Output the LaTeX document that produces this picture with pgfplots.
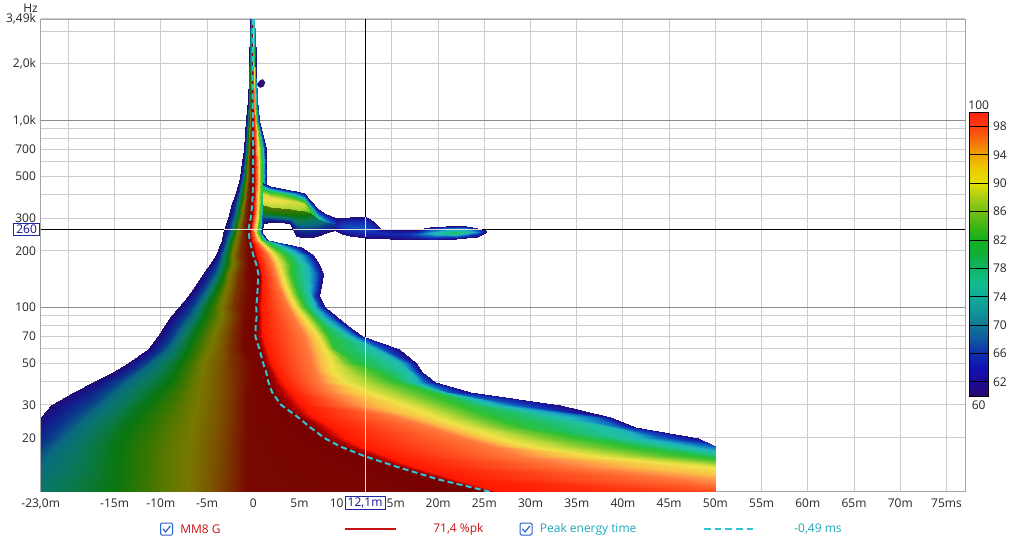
\documentclass[border=0pt]{standalone}
\usepackage{fontspec}
\setmainfont{Open Sans}
\usepackage{pgfplots}
\pgfplotsset{compat=1.18}
\newcommand\lab{\fontsize{9}{10.8}\selectfont}
\definecolor{curc}{RGB}{30,40,160}
\definecolor{curt}{RGB}{20,20,140}
\definecolor{chk}{RGB}{40,100,200}
\definecolor{redl}{RGB}{200,20,20}
\definecolor{peakc}{RGB}{48,196,212}
\definecolor{peakt}{RGB}{32,168,184}
\definecolor{blobc}{RGB}{40,16,120}
\pgfplotsset{
 colormap={rew}{rgb255(0pt)=(34,10,112); rgb255(6pt)=(20,24,140); rgb255(14pt)=(10,60,140); rgb255(20pt)=(10,104,128); rgb255(28pt)=(10,120,100); rgb255(36pt)=(10,120,52); rgb255(42pt)=(10,118,14); rgb255(50pt)=(60,118,0); rgb255(54pt)=(90,120,0); rgb255(60pt)=(120,120,0); rgb255(66pt)=(122,84,0); rgb255(70pt)=(122,52,0); rgb255(76pt)=(120,8,0); rgb255(80pt)=(120,0,0); rgb255(83pt)=(176,0,0); rgb255(86pt)=(255,24,0); rgb255(90pt)=(255,90,40); rgb255(93pt)=(255,140,70); rgb255(96pt)=(250,190,70); rgb255(100pt)=(240,226,72); rgb255(106pt)=(184,216,56); rgb255(112pt)=(112,200,48); rgb255(118pt)=(48,192,48); rgb255(124pt)=(32,192,96); rgb255(130pt)=(32,192,160); rgb255(136pt)=(32,176,192); rgb255(142pt)=(16,120,192); rgb255(148pt)=(16,64,184); rgb255(154pt)=(24,32,168); rgb255(160pt)=(34,12,124)},
 colormap={rewbar}{rgb255(0pt)=(42,8,112); rgb255(2pt)=(30,10,150); rgb255(4pt)=(16,16,176); rgb255(6pt)=(16,48,176); rgb255(8pt)=(16,88,160); rgb255(10pt)=(16,120,150); rgb255(12pt)=(16,150,152); rgb255(14pt)=(16,170,150); rgb255(16pt)=(16,190,140); rgb255(18pt)=(16,180,100); rgb255(20pt)=(16,176,56); rgb255(22pt)=(16,176,32); rgb255(24pt)=(64,182,20); rgb255(26pt)=(112,192,20); rgb255(28pt)=(170,206,20); rgb255(30pt)=(226,226,0); rgb255(32pt)=(236,202,0); rgb255(34pt)=(242,166,0); rgb255(36pt)=(246,112,12); rgb255(38pt)=(252,62,14); rgb255(40pt)=(255,32,16)},
}
\begin{document}
\begin{tikzpicture}
\useasboundingbox (0,0) rectangle (768pt,408pt);
\fill[white] (0,0) rectangle (768pt,408pt);
\begin{axis}[
 at={(30.5pt,39.2pt)}, anchor=south west, scale only axis,
 width=693.2pt, height=354.7pt,
 xmin=-23, xmax=77, ymin=10.3, ymax=3490, ymode=log,
 axis line style={draw=black!35},
 xtick={-23,-20,-15,-10,-5,0,5,10,15,20,25,30,35,40,45,50,55,60,65,70,75},
 xticklabels={{-23,0m},{},-15m,-10m,-5m,0,5m,{},{},20m,25m,30m,35m,40m,45m,50m,55m,60m,65m,70m,75ms},
 ytick={20,30,50,70,100,200,300,500,700,1000,2000,3490},
 yticklabels={20,30,50,70,100,200,300,500,700,{1,0k},{2,0k},{3,49k}},
 minor ytick={40,60,80,90,400,600,800,900,3000},
 extra y ticks={100,1000}, extra y tick labels={,},
 extra y tick style={grid=major, major grid style={draw=black!45, line width=0.75pt}},
 grid=both, major grid style={draw=black!20, line width=0.75pt}, minor grid style={draw=black!20, line width=0.75pt},
 major tick length=0pt, minor tick length=0pt,
 tick label style={font=\lab, text=black!85},
 xticklabel style={anchor=base, yshift=-11.75pt},
 colormap name=rew, point meta min=-40, point meta max=40,
]
% main spectrogram body: one scanline per frequency, columns = contour levels
\addplot[surf, shader=interp, point meta=explicit, mesh/cols=15] coordinates {
(-23,10.3)[-26] (-23,10.3)[-26] (-15.77,10.3)[-20] (-7.13,10.3)[-10] (-2.81,10.3)[-5] (-0.65,10.3)[-2] (25.6,10.3)[0] (26.68,10.3)[3] (50,10.3)[4.5] (50,10.3)[4.5] (50,10.3)[4.5] (50,10.3)[4.5] (50,10.3)[4.5] (50,10.3)[4.5] (50,10.3)[4.5]
(-23,12)[-27.5] (-23,12)[-27.5] (-15.66,12)[-20] (-7.02,12)[-10] (-2.7,12)[-5] (-0.65,12)[-2] (19.98,12)[0] (21.82,12)[3] (46.4,12)[6] (50,12)[7] (50,12)[7] (50,12)[7] (50,12)[7] (50,12)[7] (50,12)[7]
(-23,14)[-29.5] (-23,14)[-29.5] (-15.55,14)[-20] (-7.02,14)[-10] (-2.59,14)[-5] (-0.65,14)[-2] (15.55,14)[0] (17.5,14)[3] (35.21,14)[6] (48.49,14)[10] (50,14)[10.5] (50,14)[10.5] (50,14)[10.5] (50,14)[10.5] (50,14)[10.5]
(-23,16)[-31] (-22.46,16)[-30] (-15.44,16)[-20] (-6.91,16)[-10] (-2.59,16)[-5] (-0.65,16)[-2] (11.99,16)[0] (14.26,16)[3] (28.67,16)[6] (36.86,16)[10] (42.55,16)[15] (48.25,16)[20] (50,16)[22.5] (50,16)[22.5] (50,16)[22.5]
(-23,18)[-33] (-21.38,18)[-30] (-15.23,18)[-20] (-6.8,18)[-10] (-2.48,18)[-5] (-0.65,18)[-2] (9.4,18)[0] (11.56,18)[3] (25.64,18)[6] (29.78,18)[10] (35.49,18)[15] (41.19,18)[20] (45.84,18)[26] (50,18)[32.5] (50,18)[32.5]
(-23,20)[-35] (-20.41,20)[-30] (-14.8,20)[-20] (-6.7,20)[-10] (-2.48,20)[-5] (-0.65,20)[-2] (7.67,20)[0] (9.94,20)[3] (22.65,20)[6] (26.46,20)[10] (31.22,20)[15] (35.99,20)[20] (41.03,20)[26] (44.19,20)[32] (48.17,20)[40]
(-23,23)[-37] (-19.22,23)[-30] (-14.15,23)[-20] (-6.48,23)[-10] (-2.38,23)[-5] (-0.65,23)[-2] (6.05,23)[0] (8.42,23)[3] (19.02,23)[6] (22.9,23)[10] (26.36,23)[15] (29.83,23)[20] (38.38,23)[26] (39.68,23)[32] (41.33,23)[40]
(-23,26)[-39] (-18.04,26)[-30] (-13.28,26)[-20] (-6.26,26)[-10] (-2.27,26)[-5] (-0.65,26)[-2] (4.75,26)[0] (6.48,26)[3] (15.42,26)[6] (19.71,26)[10] (23.18,26)[15] (26.64,26)[20] (33.24,26)[26] (37.03,26)[32] (38.6,26)[40]
(-21.92,30)[-40] (-16.52,30)[-30] (-11.99,30)[-20] (-6.05,30)[-10] (-2.27,30)[-5] (-0.65,30)[-2] (3.02,30)[0] (5.29,30)[3] (10.54,30)[6] (16.42,30)[10] (19.73,30)[15] (23.04,30)[20] (25.98,30)[26] (28.37,30)[32] (33.16,30)[40]
(-19.44,35)[-40] (-15.01,35)[-30] (-10.58,35)[-20] (-5.83,35)[-10] (-2.16,35)[-5] (-0.54,35)[-2] (2.05,35)[0] (4,35)[3] (8.06,35)[6] (12.42,35)[10] (15.98,35)[15] (19.55,35)[20] (20.49,35)[26] (21.02,35)[32] (23.44,35)[40]
(-17.39,40)[-40] (-13.72,40)[-30] (-9.4,40)[-20] (-5.72,40)[-10] (-2.16,40)[-5] (-0.32,40)[-2] (1.62,40)[0] (3.13,40)[3] (7.08,40)[6] (9.83,40)[10] (13.29,40)[15] (15.88,40)[20] (17.39,40)[26] (18.58,40)[32] (19.68,40)[40]
(-15.12,45)[-40] (-12.2,45)[-30] (-8.75,45)[-20] (-5.51,45)[-10] (-2.27,45)[-5] (-0.32,45)[-2] (1.4,45)[0] (2.48,45)[3] (6.65,45)[6] (8.68,45)[10] (11.32,45)[15] (13.95,45)[20] (16.9,45)[26] (17.46,45)[32] (18.31,45)[40]
(-13.5,50)[-40] (-11.02,50)[-30] (-8.21,50)[-20] (-5.29,50)[-10] (-2.38,50)[-5] (-0.43,50)[-2] (1.08,50)[0] (1.94,50)[3] (6.31,50)[6] (8.37,50)[10] (9.82,50)[15] (11.25,50)[20] (15.64,50)[26] (16.75,50)[32] (17.59,50)[40]
(-11.34,60)[-40] (-9.18,60)[-30] (-7.24,60)[-20] (-4.64,60)[-10] (-2.48,60)[-5] (-1.08,60)[-2] (0.65,60)[0] (1.51,60)[3] (5.91,60)[6] (7.81,60)[10] (8.37,60)[15] (8.93,60)[20] (13.11,60)[26] (13.96,60)[32] (15.79,60)[40]
(-10.32,70)[-40] (-8.21,70)[-30] (-6.59,70)[-20] (-4.21,70)[-10] (-2.38,70)[-5] (-1.08,70)[-2] (0.22,70)[0] (1.08,70)[3] (5.52,70)[6] (7.04,70)[10] (7.69,70)[15] (8.33,70)[20] (10.26,70)[26] (11.08,70)[32] (11.77,70)[40]
(-9.53,80)[-40] (-7.45,80)[-30] (-5.94,80)[-20] (-3.78,80)[-10] (-2.16,80)[-5] (-0.97,80)[-2] (0.27,80)[0] (0.97,80)[3] (4.83,80)[6] (6.11,80)[10] (6.76,80)[15] (7.4,80)[20] (8.46,80)[26] (9.49,80)[32] (10.14,80)[40]
(-8.86,90)[-40] (-6.7,90)[-30] (-5.4,90)[-20] (-3.35,90)[-10] (-1.94,90)[-5] (-0.86,90)[-2] (0.38,90)[0] (0.97,90)[3] (4.32,90)[6] (5.39,90)[10] (5.98,90)[15] (6.58,90)[20] (7.23,90)[26] (8.25,90)[32] (8.9,90)[40]
(-8.04,100)[-40] (-6.16,100)[-30] (-5.08,100)[-20] (-3.46,100)[-10] (-2.16,100)[-5] (-0.76,100)[-2] (0.32,100)[0] (0.86,100)[3] (3.8,100)[6] (4.67,100)[10] (5.21,100)[15] (5.75,100)[20] (6.5,100)[26] (7.16,100)[32] (7.77,100)[40]
(-7.02,115)[-40] (-5.4,115)[-30] (-4.43,115)[-20] (-3.13,115)[-10] (-1.94,115)[-5] (-0.65,115)[-2] (0.43,115)[0] (0.97,115)[3] (3.24,115)[6] (4,115)[10] (4.54,115)[15] (5.08,115)[20] (6.16,115)[26] (6.48,115)[32] (7.16,115)[40]
(-6.31,130)[-40] (-4.75,130)[-30] (-3.89,130)[-20] (-2.81,130)[-10] (-1.73,130)[-5] (-0.54,130)[-2] (0.49,130)[0] (0.97,130)[3] (2.81,130)[6] (3.56,130)[10] (4.1,130)[15] (4.64,130)[20] (5.94,130)[26] (6.7,130)[32] (7.35,130)[40]
(-5.42,150)[-40] (-4,150)[-30] (-3.35,150)[-20] (-2.59,150)[-10] (-1.62,150)[-5] (-0.76,150)[-2] (0.57,150)[0] (0.97,150)[3] (2.39,150)[6] (3.15,150)[10] (3.69,150)[15] (4.23,150)[20] (5.73,150)[26] (6.8,150)[32] (7.54,150)[40]
(-4.68,170)[-40] (-3.56,170)[-30] (-2.92,170)[-20] (-2.16,170)[-10] (-1.3,170)[-5] (-0.54,170)[-2] (0.32,170)[0] (0.76,170)[3] (2.06,170)[6] (2.81,170)[10] (3.51,170)[15] (4.21,170)[20] (5.51,170)[26] (6.38,170)[32] (7.08,170)[40]
(-4.07,190)[-40] (-3.35,190)[-30] (-2.81,190)[-20] (-2.27,190)[-10] (-1.51,190)[-5] (-0.54,190)[-2] (0,190)[0] (0.43,190)[3] (1.63,190)[6] (2.28,190)[10] (2.94,190)[15] (3.6,190)[20] (4.67,190)[26] (5.76,190)[32] (6.46,190)[40]
(-3.67,210)[-40] (-3.02,210)[-30] (-2.59,210)[-20] (-2.05,210)[-10] (-1.4,210)[-5] (-0.59,210)[-2] (-0.22,210)[0] (0.22,210)[3] (0.97,210)[6] (1.4,210)[10] (1.84,210)[15] (2.27,210)[20] (3.24,210)[26] (4.1,210)[32] (5.18,210)[40]
(-3.38,230)[-40] (-2.81,230)[-30] (-2.38,230)[-20] (-1.89,230)[-10] (-1.35,230)[-5] (-0.7,230)[-2] (-0.4,230)[0] (-0.11,230)[3] (0.32,230)[6] (0.65,230)[10] (0.86,230)[15] (1.08,230)[20] (1.3,230)[26] (1.46,230)[32] (1.62,230)[40]
(-3.24,250)[-40] (-2.54,250)[-30] (-2.11,250)[-20] (-1.73,250)[-10] (-1.24,250)[-5] (-0.76,250)[-2] (-0.49,250)[0] (-0.22,250)[3] (0.05,250)[6] (0.27,250)[10] (0.43,250)[15] (0.59,250)[20] (0.76,250)[26] (0.86,250)[32] (0.97,250)[40]
(-3.13,260)[-40] (-2.38,260)[-30] (-2,260)[-20] (-1.62,260)[-10] (-1.19,260)[-5] (-0.76,260)[-2] (-0.51,260)[0] (-0.27,260)[3] (0,260)[6] (0.22,260)[10] (0.38,260)[15] (0.54,260)[20] (0.7,260)[26] (0.83,260)[32] (0.94,260)[40]
(-2.97,280)[-40] (-2.27,280)[-30] (-1.89,280)[-20] (-1.51,280)[-10] (-1.13,280)[-5] (-0.7,280)[-2] (-0.4,280)[0] (-0.16,280)[3] (0.11,280)[6] (0.32,280)[10] (0.49,280)[15] (0.65,280)[20] (0.81,280)[26] (0.92,280)[32] (1.03,280)[40]
(-2.78,300)[-40] (-2.11,300)[-30] (-1.73,300)[-20] (-1.35,300)[-10] (-1.03,300)[-5] (-0.59,300)[-2] (-0.27,300)[0] (0,300)[3] (0.22,300)[6] (0.43,300)[10] (0.59,300)[15] (0.76,300)[20] (0.86,300)[26] (0.97,300)[32] (1.08,300)[40]
(-2.51,330)[-40] (-1.89,330)[-30] (-1.57,330)[-20] (-1.19,330)[-10] (-0.86,330)[-5] (-0.49,330)[-2] (-0.18,330)[0] (0.05,330)[3] (0.27,330)[6] (0.49,330)[10] (0.65,330)[15] (0.81,330)[20] (0.97,330)[26] (1.08,330)[32] (1.19,330)[40]
(-2.29,360)[-40] (-1.73,360)[-30] (-1.4,360)[-20] (-1.05,360)[-10] (-0.76,360)[-5] (-0.43,360)[-2] (-0.11,360)[0] (0.11,360)[3] (0.32,360)[6] (0.54,360)[10] (0.7,360)[15] (0.86,360)[20] (1.03,360)[26] (1.13,360)[32] (1.24,360)[40]
(-2,400)[-40] (-1.51,400)[-30] (-1.24,400)[-20] (-0.92,400)[-10] (-0.67,400)[-5] (-0.38,400)[-2] (-0.06,400)[0] (0.14,400)[3] (0.35,400)[6] (0.56,400)[10] (0.73,400)[15] (0.9,400)[20] (1.06,400)[26] (1.19,400)[32] (1.3,400)[40]
(-1.7,450)[-40] (-1.3,450)[-30] (-1.08,450)[-20] (-0.81,450)[-10] (-0.59,450)[-5] (-0.32,450)[-2] (-0.04,450)[0] (0.16,450)[3] (0.38,450)[6] (0.59,450)[10] (0.76,450)[15] (0.92,450)[20] (1.08,450)[26] (1.24,450)[32] (1.37,450)[40]
(-1.48,500)[-40] (-1.13,500)[-30] (-0.92,500)[-20] (-0.7,500)[-10] (-0.51,500)[-5] (-0.27,500)[-2] (-0.03,500)[0] (0.16,500)[3] (0.38,500)[6] (0.59,500)[10] (0.76,500)[15] (0.92,500)[20] (1.08,500)[26] (1.24,500)[32] (1.4,500)[40]
(-1.22,600)[-40] (-0.94,600)[-30] (-0.76,600)[-20] (-0.59,600)[-10] (-0.43,600)[-5] (-0.22,600)[-2] (-0.02,600)[0] (0.16,600)[3] (0.36,600)[6] (0.57,600)[10] (0.73,600)[15] (0.9,600)[20] (1.06,600)[26] (1.22,600)[32] (1.4,600)[40]
(-1.05,700)[-40] (-0.81,700)[-30] (-0.65,700)[-20] (-0.51,700)[-10] (-0.38,700)[-5] (-0.19,700)[-2] (-0.02,700)[0] (0.14,700)[3] (0.32,700)[6] (0.54,700)[10] (0.7,700)[15] (0.86,700)[20] (1.03,700)[26] (1.19,700)[32] (1.37,700)[40]
(-0.86,850)[-40] (-0.67,850)[-30] (-0.54,850)[-20] (-0.41,850)[-10] (-0.29,850)[-5] (-0.15,850)[-2] (-0.02,850)[0] (0.11,850)[3] (0.25,850)[6] (0.4,850)[10] (0.52,850)[15] (0.63,850)[20] (0.73,850)[26] (0.84,850)[32] (0.94,850)[40]
(-0.76,1000)[-40] (-0.59,1000)[-30] (-0.48,1000)[-20] (-0.36,1000)[-10] (-0.25,1000)[-5] (-0.14,1000)[-2] (-0.04,1000)[0] (0.05,1000)[3] (0.16,1000)[6] (0.26,1000)[10] (0.33,1000)[15] (0.41,1000)[20] (0.48,1000)[26] (0.53,1000)[32] (0.57,1000)[40]
(-0.62,1300)[-40] (-0.49,1300)[-30] (-0.39,1300)[-20] (-0.29,1300)[-10] (-0.22,1300)[-5] (-0.14,1300)[-2] (-0.08,1300)[0] (0,1300)[3] (0.08,1300)[6] (0.14,1300)[10] (0.21,1300)[15] (0.26,1300)[20] (0.31,1300)[26] (0.36,1300)[32] (0.4,1300)[40]
(-0.51,1700)[-40] (-0.41,1700)[-30] (-0.32,1700)[-20] (-0.25,1700)[-10] (-0.18,1700)[-5] (-0.13,1700)[-2] (-0.08,1700)[0] (-0.02,1700)[3] (0.03,1700)[6] (0.09,1700)[10] (0.14,1700)[15] (0.18,1700)[20] (0.24,1700)[26] (0.28,1700)[32] (0.32,1700)[40]
(-0.43,2200)[-40] (-0.35,2200)[-30] (-0.28,2200)[-20] (-0.22,2200)[-10] (-0.16,2200)[-5] (-0.12,2200)[-2] (-0.08,2200)[0] (-0.03,2200)[3] (0.01,2200)[6] (0.05,2200)[10] (0.1,2200)[15] (0.13,2200)[20] (0.17,2200)[26] (0.21,2200)[32] (0.25,2200)[40]
(-0.38,2800)[-40] (-0.3,2800)[-30] (-0.25,2800)[-20] (-0.19,2800)[-10] (-0.15,2800)[-5] (-0.11,2800)[-2] (-0.08,2800)[0] (-0.04,2800)[3] (-0.01,2800)[6] (0.02,2800)[10] (0.05,2800)[15] (0.09,2800)[20] (0.12,2800)[26] (0.15,2800)[32] (0.18,2800)[40]
(-0.32,3490)[-40] (-0.26,3490)[-30] (-0.21,3490)[-20] (-0.16,3490)[-10] (-0.12,3490)[-5] (-0.09,3490)[-2] (-0.06,3490)[0] (-0.04,3490)[3] (-0.02,3490)[6] (0,3490)[10] (0.02,3490)[15] (0.04,3490)[20] (0.06,3490)[26] (0.1,3490)[32] (0.13,3490)[40]
};
% arm above the 260 Hz hole (vertical slices)
\addplot[surf, shader=interp, point meta=explicit, mesh/cols=10] coordinates {
(1.08,462.1)[40] (1.08,450.8)[32] (1.08,439.9)[25] (1.08,424)[19] (1.08,393.8)[8] (1.08,352.5)[13] (1.08,352.5)[-13] (1.08,323.4)[-18] (1.08,300.4)[-32] (1.08,279)[-40]
(1.84,445.4)[40] (1.84,434.5)[32] (1.84,424)[25] (1.84,411.1)[19] (1.84,379.5)[9] (1.84,344)[13] (1.84,344)[-13] (1.84,319.5)[-18] (1.84,298.5)[-32] (1.84,285.9)[-40]
(2.92,432.9)[40] (2.92,424)[32] (2.92,415.2)[25] (2.92,406.1)[19] (2.92,374.9)[10] (2.92,339.8)[13] (2.92,339.8)[-13] (2.92,315.6)[-18] (2.92,294.9)[-32] (2.92,287)[-40]
(4,421.4)[40] (4,413.7)[32] (4,403.6)[25] (4,393.8)[19] (4,370.3)[11] (4,335.6)[14] (4,335.6)[-14] (4,311.7)[-18] (4,291.3)[-32] (4,279)[-40]
(4.64,416.3)[40] (4.64,406.1)[32] (4.64,393.8)[25] (4.64,384.2)[19] (4.64,365.8)[11] (4.64,331.5)[14] (4.64,331.5)[-14] (4.64,307.9)[-20] (4.64,272.3)[-32] (4.64,240.6)[-40]
(5.51,406.1)[40] (5.51,393.8)[32] (5.51,379.5)[25] (5.51,370.3)[19] (5.51,356.9)[12] (5.51,327.4)[15] (5.51,327.4)[-15] (5.51,304.1)[-20] (5.51,265.6)[-32] (5.51,234.8)[-40]
(6.16,374.9)[40] (6.16,361.3)[33] (6.16,348.2)[27] (6.16,339.8)[22] (6.16,331.5)[17] (6.16,319.5)[20] (6.16,319.5)[-18] (6.16,300.4)[-24] (6.16,262.3)[-33] (6.16,234.8)[-40]
(7.02,335.6)[40] (7.02,323.4)[34] (7.02,311.7)[30] (7.02,304.1)[26] (7.02,298.5)[24] (7.02,294.9)[24] (7.02,294.9)[-26] (7.02,285.9)[-28] (7.02,262.3)[-34] (7.02,240.6)[-40]
(7.88,313.6)[40] (7.88,306)[36] (7.88,298.5)[33] (7.88,293.1)[31] (7.88,289.5)[30] (7.88,285.9)[30] (7.88,285.9)[-30] (7.88,279)[-32] (7.88,262.3)[-36] (7.88,248.1)[-40]
(8.96,300.4)[40] (8.96,293.1)[38] (8.96,285.9)[36] (8.96,282.4)[35] (8.96,279)[34] (8.96,277.3)[34] (8.96,277.3)[-34] (8.96,272.3)[-35] (8.96,264)[-37] (8.96,257.5)[-40]
};
% lobes to the right of the arm
\addplot[surf, shader=interp, point meta=explicit, mesh/cols=5] coordinates {
(8.96,298.5)[40] (8.96,286.6)[38] (8.96,273.8)[36] (8.96,264)[38] (8.96,254.3)[40]
(9.61,301.1)[40] (9.61,287.6)[37] (9.61,270.5)[34] (9.61,257.5)[37] (9.61,245.1)[40]
(10.47,304.1)[40] (10.47,289.5)[36] (10.47,268.8)[33] (10.47,254.3)[36] (10.47,240.6)[40]
(11.34,305.3)[40] (11.34,289.5)[36] (11.34,268.8)[33] (11.34,252.8)[36] (11.34,237.6)[40]
(12.2,302.2)[40] (12.2,287.6)[36] (12.2,265.6)[33] (12.2,249.7)[36] (12.2,235.6)[40]
(12.96,289.5)[40] (12.96,277.3)[37] (12.96,260.6)[34] (12.96,246.6)[37] (12.96,234.8)[40]
(13.72,264)[40] (13.72,257.5)[38] (13.72,249.7)[36] (13.72,242.1)[38] (13.72,233.9)[40]
(14.8,260.6)[40] (14.8,254.3)[38] (14.8,246.6)[36] (14.8,239.2)[38] (14.8,232.8)[40]
(15.88,259.1)[40] (15.88,252.8)[38] (15.88,245.1)[36] (15.88,237.6)[38] (15.88,231.9)[40]
(16.96,259.1)[40] (16.96,252.8)[37] (16.96,245.1)[35] (16.96,237.6)[37] (16.96,231.3)[40]
(17.82,260.6)[40] (17.82,252.8)[36] (17.82,245.1)[32] (17.82,237.6)[36] (17.82,230.5)[40]
(19.12,269.9)[40] (19.12,260.6)[34] (19.12,248.1)[28] (19.12,237.6)[34] (19.12,229.1)[40]
(20.84,273.3)[40] (20.84,264)[32] (20.84,249.7)[23] (20.84,239.2)[32] (20.84,230.5)[40]
(21.92,272.9)[40] (21.92,264)[31] (21.92,249.7)[21] (21.92,239.2)[31] (21.92,231.9)[40]
(23,271.3)[40] (23,264)[32] (23,251.2)[24] (23,242.1)[32] (23,234.8)[40]
(24.19,266.6)[40] (24.19,260.6)[35] (24.19,251.2)[30] (24.19,245.1)[35] (24.19,238.5)[40]
(24.84,260.6)[40] (24.84,257.5)[38] (24.84,252.8)[36] (24.84,248.7)[38] (24.84,245.1)[40]
(25.27,254.3)[40] (25.27,253.7)[40] (25.27,253.1)[40] (25.27,252.5)[40] (25.27,251.8)[40]
};
% small isolated blob near 1.5 kHz
\addplot[fill=blobc, draw=none] coordinates {(0.4,1560) (0.7,1630) (1.0,1660) (1.3,1600) (1.15,1520) (0.75,1490) (0.45,1530)} -- cycle;
% peak energy time
\addplot[peakc, line width=1.5pt, dash pattern=on 4.5pt off 2.5pt] coordinates {
(-0.06,3490) (-0.08,2800) (-0.08,2200) (-0.08,1700) (-0.08,1300) (-0.04,1000) (-0.02,850) (-0.02,700) (-0.02,600) (-0.03,500) (-0.04,450) (-0.06,400) (-0.11,360) (-0.18,330) (-0.27,300) (-0.4,280) (-0.51,260) (-0.49,250) (-0.4,230) (-0.22,210) (0,190) (0.32,170) (0.57,150) (0.49,130) (0.43,115) (0.32,100) (0.38,90) (0.27,80) (0.22,70) (0.65,60) (1.08,50) (1.4,45) (1.62,40) (2.05,35) (3.02,30) (4.75,26) (6.05,23) (7.67,20) (9.4,18) (11.99,16) (15.55,14) (19.98,12) (25.6,10.3)};
% cursor lines
\draw[black, line width=0.75pt] (axis cs:12.1,10.3) -- (axis cs:12.1,3490);
\draw[black, line width=0.75pt] (axis cs:-23,260) -- (axis cs:77,260);
\draw[black!12, line width=0.75pt] (axis cs:12.1,10.3) -- (axis cs:12.1,69);
\draw[black!12, line width=0.75pt] (axis cs:12.1,236) -- (axis cs:12.1,302);
\draw[black!12, line width=0.75pt] (axis cs:-3.13,260) -- (axis cs:0.94,260);
\draw[black!12, line width=0.75pt] (axis cs:4.3,260) -- (axis cs:24.8,260);
\coordinate (xcur) at (axis cs:12.1,10.3);
\coordinate (ycur) at (axis cs:-23,260);
\end{axis}
% colour scale
\begin{axis}[
 at={(726.75pt,111pt)}, anchor=south west, scale only axis,
 width=14.5pt, height=212.8pt,
 xmin=0, xmax=1, ymin=60, ymax=100,
 axis on top, axis line style={black, line width=0.75pt},
 xtick=\empty,
 ytick={62,66,70,74,78,82,86,90,94,98},
 yticklabels={62,66,70,74,78,82,86,90,94,98},
 ytick pos=right, yticklabel pos=right, tick align=inside,
 major tick length=14.5pt, tick style={black, line width=0.6pt},
 tick label style={font=\lab, text=black!85},
 colormap name=rewbar, point meta min=60, point meta max=100,
]
\addplot[surf, shader=interp, point meta=y, mesh/cols=2] coordinates {
(0,60) (1,60) (0,61) (1,61) (0,62) (1,62) (0,63) (1,63) (0,64) (1,64) (0,65) (1,65) (0,66) (1,66) (0,67) (1,67) (0,68) (1,68) (0,69) (1,69)
(0,70) (1,70) (0,71) (1,71) (0,72) (1,72) (0,73) (1,73) (0,74) (1,74) (0,75) (1,75) (0,76) (1,76) (0,77) (1,77) (0,78) (1,78) (0,79) (1,79)
(0,80) (1,80) (0,81) (1,81) (0,82) (1,82) (0,83) (1,83) (0,84) (1,84) (0,85) (1,85) (0,86) (1,86) (0,87) (1,87) (0,88) (1,88) (0,89) (1,89)
(0,90) (1,90) (0,91) (1,91) (0,92) (1,92) (0,93) (1,93) (0,94) (1,94) (0,95) (1,95) (0,96) (1,96) (0,97) (1,97) (0,98) (1,98) (0,99) (1,99)
(0,100) (1,100)};
\end{axis}
\node[font=\lab, text=black!85, anchor=south, inner sep=0.5pt] at (734pt,325pt) {100};
\node[font=\lab, text=black!85, anchor=north, inner sep=0.5pt] at (734pt,108pt) {60};
% axis unit
\node[font=\lab, text=black!85, anchor=east, inner sep=0pt] at (28.5pt,402pt) {Hz};
% cursor value boxes and the partly hidden tick labels beside the x box
\node[draw=curc, fill=white, text=curt, font=\lab, inner xsep=2pt, inner ysep=1.2pt, line width=0.75pt] (xbox) at ([yshift=-8.5pt]xcur) {12,1m};
\node[font=\lab, text=black!85, anchor=east, inner xsep=0.6pt, inner ysep=0pt] at (xbox.west) {10};
\node[font=\lab, text=black!85, anchor=west, inner xsep=0.6pt, inner ysep=0pt] at (xbox.east) {5m};
\node[draw=curc, fill=white, text=curt, font=\lab, inner xsep=2pt, inner ysep=1.2pt, line width=0.75pt] at ([xshift=-10.5pt]ycur) {260};
% legend row
\draw[chk, line width=0.75pt, rounded corners=1pt] (120.4pt,6.75pt) rectangle (129.4pt,15.75pt);
\draw[chk, line width=0.9pt] (122.2pt,11.4pt) -- (124.2pt,9.1pt) -- (127.8pt,13.6pt);
\node[font=\lab, text=redl, anchor=west, inner sep=0pt] at (135pt,11.25pt) {MM8 G};
\draw[redl, line width=1.5pt] (258.75pt,11.25pt) -- (297pt,11.25pt);
\node[font=\lab, text=redl, anchor=west, inner sep=0pt] at (324.75pt,11.25pt) {71,4 \%pk};
\draw[chk, line width=0.75pt, rounded corners=1pt] (390pt,6.75pt) rectangle (399pt,15.75pt);
\draw[chk, line width=0.9pt] (391.8pt,11.4pt) -- (393.8pt,9.1pt) -- (397.4pt,13.6pt);
\node[font=\lab, text=peakt, anchor=west, inner sep=0pt] at (404.7pt,11.25pt) {Peak energy time};
\draw[peakc, line width=1.5pt, dash pattern=on 5pt off 3pt] (528pt,11.25pt) -- (565pt,11.25pt);
\node[font=\lab, text=peakt, anchor=west, inner sep=0pt] at (595.5pt,11.25pt) {-0,49 ms};
\end{tikzpicture}
\end{document}
